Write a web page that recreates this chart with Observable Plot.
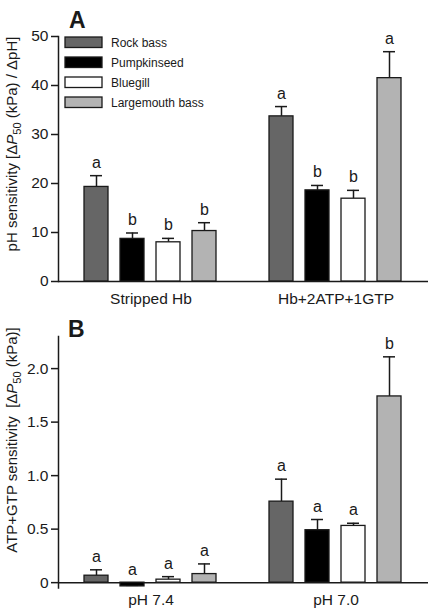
<!DOCTYPE html>
<html>
<head>
<meta charset="utf-8">
<script src="https://cdn.jsdelivr.net/npm/d3@7"></script>
<script src="https://cdn.jsdelivr.net/npm/@observablehq/plot@0.6"></script>
<style>
  html, body { margin: 0; padding: 0; background: white; }
  #chart { width: 428px; font-family: "Liberation Sans", Arial, sans-serif; }
  #chart svg { display: block; }
  #chart g[aria-label="y-axis tick"] path,
  #chart g[aria-label="frame"] line,
  #chart g[aria-label="frame"] path { stroke-width: 1.5; }
  #chart g[aria-label="y-axis tick label"] text,
  #chart g[aria-label="y-axis tick label"],
  #chart g[aria-label="fx-axis tick label"] text,
  #chart g[aria-label="fx-axis tick label"] { font-size: 15.5px; }
</style>
</head>
<body>
<div id="chart"></div>
<script>
// Species, shared by both panels
const species = ["Rock bass", "Pumpkinseed", "Bluegill", "Largemouth bass"];
const speciesFill = ["#666666", "#000000", "#ffffff", "#b3b3b3"];

// Panel A: pH sensitivity (ΔP50 / ΔpH), mean and SEM per species
const groupsA = ["Stripped Hb", "Hb+2ATP+1GTP"];
const phMeanStripped = [19.3, 8.7, 8.0, 10.3];
const phSemStripped = [2.3, 1.2, 0.8, 1.7];
const phLettersStripped = ["a", "b", "b", "b"];
const phMeanNTP = [33.7, 18.6, 16.9, 41.5];
const phSemNTP = [2.0, 1.0, 1.7, 5.4];
const phLettersNTP = ["a", "b", "b", "a"];
const yTicksA = [0, 10, 20, 30, 40, 50];

// Panel B: ATP+GTP sensitivity (ΔP50, kPa), mean and SEM per species
const groupsB = ["pH 7.4", "pH 7.0"];
const ntpMean74 = [0.065, -0.035, 0.028, 0.08];
const ntpSem74 = [0.055, 0.01, 0.028, 0.095];
const ntpLetters74 = ["a", "a", "a", "a"];
const ntpMean70 = [0.757, 0.49, 0.53, 1.74];
const ntpSem70 = [0.21, 0.10, 0.025, 0.37];
const ntpLetters70 = ["a", "a", "a", "b"];
const yTicksB = [0, 0.5, 1.0, 1.5, 2.0];

function rowsFor(group, means, sems, letters) {
  return species.map((s, i) => ({
    group,
    species: s,
    mean: means[i],
    upper: means[i] + sems[i],
    labelY: Math.max(means[i] + sems[i], 0),
    letter: letters[i]
  }));
}

const rowsA = [
  ...rowsFor(groupsA[0], phMeanStripped, phSemStripped, phLettersStripped),
  ...rowsFor(groupsA[1], phMeanNTP, phSemNTP, phLettersNTP)
];
const rowsB = [
  ...rowsFor(groupsB[0], ntpMean74, ntpSem74, ntpLetters74),
  ...rowsFor(groupsB[1], ntpMean70, ntpSem70, ntpLetters70)
];

const font = "'Liberation Sans', Arial, sans-serif";

function panel({rows, groups, yDomain, yTicks, tickFormat, height, marginTop, marginBottom, labelPadding}) {
  return Plot.plot({
    width: 428,
    height,
    marginLeft: 57,
    marginRight: 0,
    marginTop,
    marginBottom,
    style: {fontFamily: font, fontSize: "15px", color: "#1a1a1a", background: "white", overflow: "visible"},
    fx: {domain: groups, padding: 0, axis: "bottom", label: null, tickSize: 0, tickPadding: labelPadding},
    x: {domain: species, axis: null, paddingInner: 0.33, paddingOuter: 0.68},
    y: {domain: yDomain, ticks: yTicks, tickFormat, tickSize: 7, tickPadding: 3, label: null, line: true},
    color: {domain: species, range: speciesFill},
    marks: [
      Plot.ruleY([0], {stroke: "#1a1a1a", strokeWidth: 1.5}),
      Plot.ruleX(rows, {fx: "group", x: "species", y1: "mean", y2: "upper", stroke: "#1a1a1a", strokeWidth: 1.5}),
      Plot.tickY(rows, {fx: "group", x: "species", y: "upper", insetLeft: 6, insetRight: 6, stroke: "#1a1a1a", strokeWidth: 1.5}),
      Plot.barY(rows, {fx: "group", x: "species", y: "mean", fill: "species", stroke: "#1a1a1a", strokeWidth: 1.3}),
      Plot.text(rows, {fx: "group", x: "species", y: "labelY", text: "letter", lineAnchor: "bottom", dy: -8, fontSize: 16, fill: "#1a1a1a"})
    ]
  });
}

// Rotated axis title with italic P and subscript 50
function addYTitle(svg, x, y, before, after) {
  const t = d3.select(svg).append("text")
    .attr("transform", `translate(${x},${y}) rotate(-90)`)
    .attr("text-anchor", "middle")
    .attr("font-family", font)
    .attr("font-size", 15)
    .attr("fill", "#1a1a1a");
  t.append("tspan").text(before);
  t.append("tspan").attr("font-style", "italic").text("P");
  t.append("tspan").attr("font-size", 11).attr("dy", 4).text("50");
  t.append("tspan").attr("dy", -4).text(after);
}

function addPanelLetter(svg, x, y, letter) {
  d3.select(svg).append("text")
    .attr("x", x).attr("y", y)
    .attr("text-anchor", "start")
    .attr("font-family", font)
    .attr("font-weight", "bold")
    .attr("font-size", 23)
    .attr("fill", "#1a1a1a")
    .text(letter);
}

const chart = document.getElementById("chart");

const plotA = panel({
  rows: rowsA, groups: groupsA, yDomain: [0, 50], yTicks: yTicksA,
  tickFormat: d => String(d), height: 312, marginTop: 36, marginBottom: 31, labelPadding: 11
});
addYTitle(plotA, 17, 144, "pH sensitivity [Δ", " (kPa) / ΔpH]");
addPanelLetter(plotA, 69, 28, "A");

// Legend inside panel A
const legend = d3.select(plotA).append("g")
  .attr("font-family", font).attr("font-size", 12).attr("fill", "#1a1a1a")
  .attr("text-anchor", "start");
species.forEach((s, i) => {
  legend.append("rect")
    .attr("x", 65).attr("y", 37 + 20 * i).attr("width", 37).attr("height", 10.5)
    .attr("fill", speciesFill[i]).attr("stroke", "#1a1a1a").attr("stroke-width", 1.3);
  legend.append("text")
    .attr("x", 111).attr("y", 42.5 + 20 * i).attr("dy", "0.35em")
    .text(s);
});
chart.appendChild(plotA);

const plotB = panel({
  rows: rowsB, groups: groupsB, yDomain: [-0.05, 2.3], yTicks: yTicksB,
  tickFormat: d => d === 0 ? "0" : d.toFixed(1), height: 304, marginTop: 24, marginBottom: 28.5, labelPadding: 6
});
addYTitle(plotB, 17, 128, "ATP+GTP sensitivity  [Δ", " (kPa)]");
addPanelLetter(plotB, 68, 25, "B");
chart.appendChild(plotB);
</script>
</body>
</html>
